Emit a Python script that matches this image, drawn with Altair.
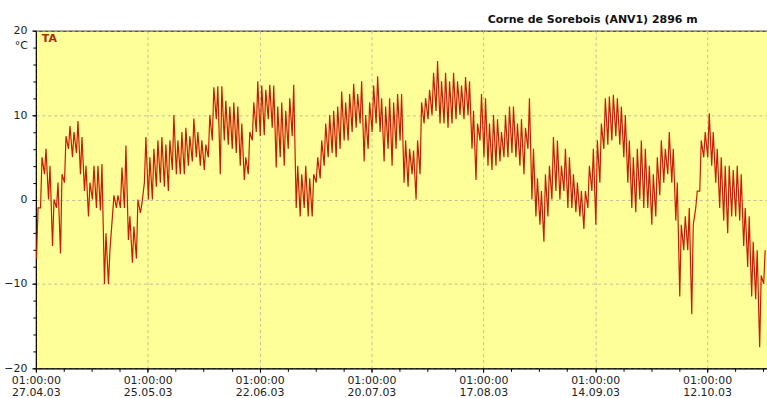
import altair as alt
import pandas as pd

# daily maximum / minimum air temperature (°C), one entry per day from 27.04.03
day_max = [-1, 5, 6, 4, 0, 2, 3, 7.5, 8.7, 8, 9.3, 7.4, 4, 2, 4, 4, 4.2, -4, -6, 0.5,
           0.5, 3.8, 6.4, -2, -3.2, 0, -0.5, 7.4, 5, 6, 7, 7.4, 6.5, 7, 10, 7, 8, 8.5, 7.5, 9.6,
           8, 7, 6.5, 10, 13.3, 13.4, 13.4, 11.7, 11, 11.5, 11, 9, 5, 8, 11.5, 14, 13.5, 13, 13.6, 13.5,
           11, 11.5, 10.5, 12, 13.6, 4, 3, 4, 2.5, 3, 5, 7, 9, 10, 10.5, 11, 12.8, 11.5, 12.5, 13.7,
           12.5, 14, 10, 11.5, 13.5, 14.6, 12, 11, 12, 11.5, 12.5, 12.5, 7, 6, 5.8, 7, 11.5, 12, 13, 15,
           16.4, 14, 15, 14, 15, 14, 13.5, 14.5, 14, 10.5, 9, 12.5, 12, 9, 10, 9.5, 8, 10, 11, 11,
           9, 9.5, 8.5, 12, 6, 2.5, 1, 3, 4, 7.4, 7, 4, 6, 5, 3, 2, 1, 1, 4, 6,
           7, 9, 12, 12.2, 12.4, 12, 11, 10, 7, 5, 6, 7, 6, 4, 3, 5, 7, 6, 8, 6,
           2, -3, -2, -1, -3, 1, 7, 8, 10.2, 8, 6, 5, 4, 4, 3.5, 4, 3, -1, -2, -5,
           -6, -9, -6]
day_min = [-7, -1, 3, 0, -5.5, -1, -6.4, 2, 6, 5, 5.5, 3, 1, -2, 0, -1, -1.3, -10, -10, -2,
           -1, -1, -1, -4.8, -7.5, -7, -1.6, 2, 0, 0, 1.5, 2, 1.5, 1, 3.5, 3, 3, 3, 4, 4.5,
           5, 4, 3.5, 5, 7, 9.5, 3, 7, 6.5, 6, 5.5, 4, 2.3, 3, 7, 8, 7.5, 7.6, 9.5, 8.5,
           3.8, 5, 4, 6, 7.5, -1, -2, -1, -2, -2, 2, 2.5, 4, 5, 5.5, 5, 6, 7, 7, 8,
           8.5, 9, 4.5, 6, 8, 9, 8, 4.5, 6, 4, 6, 7, 2, 1.5, 3, 0, 3, 9, 9.5, 10,
           10.5, 9, 9, 8.5, 9, 9.5, 10, 9.5, 10, 6, 2.3, 7, 5, 4, 3.5, 4, 4.5, 5, 5, 5.5,
           5, 4, 3, 6, 0, -2, -3, -5, -2, 0, 1, 0, 1, -1, -1, -1.5, -2, -3.5, -1, 1,
           -3, 2, 6, 6.5, 7, 7.5, 6.5, 5, 2, -1, -1.5, 0, -1, -1, -3, -2, 0.5, 2, 3, 2,
           -2.5, -11.5, -6, -6, -13.6, -1, 1, 5, 5, 4, 2, -1, -2.5, -4, -2, -2, -2.5, -5.5, -8, -11.5,
           -11.8, -17.5, -10]

y_ticks = [-20, -10, 0, 10, 20]
y_minor = list(range(-20, 21, 2))
title_text = "Corne de Sorebois (ANV1) 2896 m"
series_label = "TA"
unit_label = "°C"

start = pd.Timestamp("2003-04-27 01:00:00")
rows = []
for d, (mx, mn) in enumerate(zip(day_max, day_min)):
    rows.append({"t": (start + pd.Timedelta(days=d, hours=4)).strftime("%Y-%m-%dT%H:%M:%S"), "ta": mn})
    rows.append({"t": (start + pd.Timedelta(days=d, hours=13)).strftime("%Y-%m-%dT%H:%M:%S"), "ta": mx})
df = pd.DataFrame(rows)


def dt(ts):
    return alt.DateTime(year=ts.year, month=ts.month, date=ts.day, hours=ts.hour)


major_x = [dt(start + pd.Timedelta(days=28 * k)) for k in range(7)]
minor_x = [dt(start + pd.Timedelta(days=7 * k)) for k in range(27)]
x_domain = [dt(start), dt(start + pd.Timedelta(days=183))]

FONT = "DejaVu Sans"
GRID = "#c4bd98"

xscale = alt.Scale(domain=x_domain)
yscale = alt.Scale(domain=[-20, 20], nice=False)

line = alt.Chart(df).mark_line(color="#cc1a00", strokeWidth=1.2).encode(
    x=alt.X("t:T", scale=xscale, title=None,
            axis=alt.Axis(values=major_x, grid=True, gridDash=[3, 3], gridColor=GRID,
                          tickSize=4, labelPadding=2, labelFontSize=11, labelFont=FONT,
                          labelColor="#222222", labelLineHeight=12, orient="bottom",
                          labelExpr="[timeFormat(datum.value, '%H:%M:%S'), timeFormat(datum.value, '%d.%m.%y')]",
                          domainColor="black", tickColor="black", labelFlush=False)),
    y=alt.Y("ta:Q", scale=yscale, title=None,
            axis=alt.Axis(values=y_ticks, grid=True, gridDash=[3, 3], gridColor=GRID,
                          tickSize=4, labelPadding=5, labelFontSize=11, labelFont=FONT,
                          labelColor="#222222", orient="left",
                          domainColor="black", tickColor="black")),
)

minor = alt.Chart(df).mark_line(opacity=0).encode(
    x=alt.X("t:T", scale=xscale, title=None,
            axis=alt.Axis(values=minor_x, grid=False, labels=False, tickSize=3,
                          orient="bottom", domain=False, tickColor="black")),
    y=alt.Y("ta:Q", scale=yscale, title=None,
            axis=alt.Axis(values=y_minor, grid=False, labels=False, tickSize=3,
                          orient="left", domain=False, tickColor="black")),
)

title = alt.Chart(pd.DataFrame({"s": [title_text]})).mark_text(
    font=FONT, fontSize=11, fontWeight="bold", color="#111111", align="center", baseline="middle"
).encode(text="s:N", x=alt.value(559), y=alt.value(-11))

ta = alt.Chart(pd.DataFrame({"s": [series_label]})).mark_text(
    font=FONT, fontSize=11, fontWeight="bold", color="#b02a00", align="left", baseline="middle"
).encode(text="s:N", x=alt.value(6), y=alt.value(8))

unit = alt.Chart(pd.DataFrame({"s": [unit_label]})).mark_text(
    font=FONT, fontSize=11, color="#222222", align="right", baseline="middle"
).encode(text="s:N", x=alt.value(-8), y=alt.value(15))

chart = alt.layer(line, minor, title, ta, unit).resolve_axis(
    x="independent", y="independent"
).properties(
    width=734, height=339,
    autosize=alt.AutoSizeParams(type="none"),
    padding={"left": 36, "top": 30, "right": 0, "bottom": 29},
    background="white",
).configure_view(fill="#ffff99", stroke="black", strokeWidth=1)

chart.save("out.html", embed_options={"renderer": "svg", "actions": False})
